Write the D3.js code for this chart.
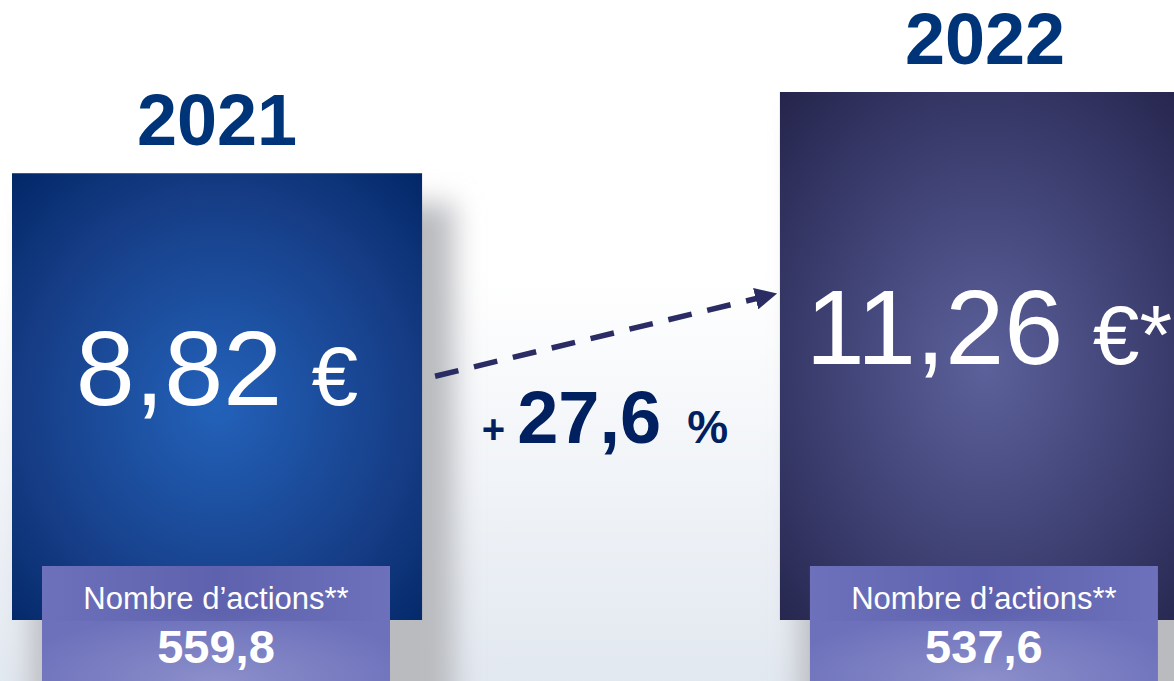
<!DOCTYPE html>
<html>
<head>
<meta charset="utf-8">
<script src="https://cdn.jsdelivr.net/npm/d3@7/dist/d3.min.js"></script>
<style>
  body { margin: 0; overflow: hidden; background: #fff; }
  svg { display: block; font-family: "Liberation Sans", Arial, sans-serif; }
</style>
</head>
<body>
<div id="chart"></div>
<script>
// data
var years = ["2021", "2022"];
var prices = [8.82, 11.26];
var priceNotes = ["", "*"];
var shares = [559.8, 537.6];
var growth = 27.6;
var sharesLabel = "Nombre d’actions**";

var width = 1174, height = 681;

var svg = d3.select("#chart").append("svg")
    .attr("width", width)
    .attr("height", height);

var defs = svg.append("defs");

// page background, white fading to a pale blue-grey at the bottom
var bg = defs.append("linearGradient").attr("id", "bg")
    .attr("x1", 0).attr("y1", 0).attr("x2", 0).attr("y2", 1);
bg.append("stop").attr("offset", "0.4").attr("stop-color", "#ffffff");
bg.append("stop").attr("offset", "1").attr("stop-color", "#e2e8f0");

var barColors = [
    {inner: "#2362ba", mid: "#163d86", outer: "#002564"},
    {inner: "#5c619b", mid: "#383a6a", outer: "#222248"}
];
barColors.forEach(function(c, i) {
    var g = defs.append("radialGradient").attr("id", "bar" + i)
        .attr("cx", 0.5).attr("cy", 0.52).attr("r", 0.75);
    g.append("stop").attr("offset", "0").attr("stop-color", c.inner);
    g.append("stop").attr("offset", "0.62").attr("stop-color", c.mid);
    g.append("stop").attr("offset", "1").attr("stop-color", c.outer);
});

var boxGrad = defs.append("radialGradient").attr("id", "box")
    .attr("cx", 0.5).attr("cy", 1).attr("r", 0.6);
boxGrad.append("stop").attr("offset", "0").attr("stop-color", "#8c8fca");
boxGrad.append("stop").attr("offset", "1").attr("stop-color", "#6d71bb");

var band = defs.append("linearGradient").attr("id", "band");
band.append("stop").attr("offset", "0").attr("stop-color", "#3c4090").attr("stop-opacity", 0);
band.append("stop").attr("offset", "0.5").attr("stop-color", "#3c4090").attr("stop-opacity", 0.3);
band.append("stop").attr("offset", "1").attr("stop-color", "#3c4090").attr("stop-opacity", 0);

defs.append("filter").attr("id", "blur")
    .attr("x", "-50%").attr("y", "-50%").attr("width", "200%").attr("height", "200%")
    .append("feGaussianBlur").attr("stdDeviation", 14);

defs.append("marker").attr("id", "head")
    .attr("viewBox", "0 0 10 10")
    .attr("refX", 9).attr("refY", 5)
    .attr("markerWidth", 4).attr("markerHeight", 4)
    .attr("markerUnits", "strokeWidth")
    .attr("orient", "auto")
    .append("path").attr("d", "M0,0L10,5L0,10Z").attr("fill", "#2b2c64");

svg.append("rect").attr("width", width).attr("height", height).attr("fill", "url(#bg)");

// scales
var x = d3.scaleBand().domain(years).range([12, 1190]).paddingInner(0.466).paddingOuter(0);
var y = d3.scaleLinear().domain([-4.6, 11.26]).range([620, 92]);

var fmt = function(v, p) { return d3.format("." + p + "f")(v).replace(".", ","); };

var rows = years.map(function(d, i) {
    return {year: d, price: prices[i], note: priceNotes[i], shares: shares[i], i: i};
});

var g = svg.selectAll(".col").data(rows).enter().append("g").attr("class", "col");

// soft shadow
g.append("rect")
    .attr("x", d => x(d.year) + 20)
    .attr("y", d => y(d.price) + 30)
    .attr("width", x.bandwidth() + 12)
    .attr("height", d => y(-4.6) - y(d.price) + 120)
    .attr("fill", "#b9bbbf")
    .attr("filter", "url(#blur)");

// bars
g.append("rect")
    .attr("x", d => x(d.year))
    .attr("y", d => y(d.price))
    .attr("width", x.bandwidth())
    .attr("height", d => y(-4.6) - y(d.price))
    .attr("fill", d => "url(#bar" + d.i + ")");

// year labels
g.append("text")
    .attr("x", d => x(d.year) + x.bandwidth() / 2)
    .attr("y", d => y(d.price) - 28)
    .attr("text-anchor", "middle")
    .attr("font-weight", "bold")
    .attr("font-size", 72)
    .attr("fill", "#003478")
    .text(d => d.year);

// price labels
var pt = g.append("text")
    .attr("x", d => x(d.year) + x.bandwidth() / 2 + (d.note ? 4 : 0))
    .attr("y", d => (y(d.price) + y(-4.6)) / 2 + 8)
    .attr("text-anchor", "middle")
    .attr("font-size", 106)
    .attr("fill", "#ffffff");
pt.append("tspan").text(d => fmt(d.price, 2) + " ");
pt.append("tspan").attr("font-size", 84).text("€");
pt.append("tspan").attr("font-size", 84).text(d => d.note);

// share count boxes
var bx = g.append("g");
bx.append("rect")
    .attr("x", d => x(d.year) + 30)
    .attr("y", 566)
    .attr("width", 348)
    .attr("height", height - 566)
    .attr("fill", "url(#box)");
bx.append("rect")
    .attr("x", d => x(d.year) + 30)
    .attr("y", 566)
    .attr("width", 348)
    .attr("height", 55)
    .attr("fill", "url(#band)");
bx.append("text")
    .attr("x", d => x(d.year) + 30 + 174)
    .attr("y", 609)
    .attr("text-anchor", "middle")
    .attr("font-size", 31)
    .attr("fill", "#ffffff")
    .text(sharesLabel);
bx.append("text")
    .attr("x", d => x(d.year) + 30 + 174)
    .attr("y", 663)
    .attr("text-anchor", "middle")
    .attr("font-size", 47)
    .attr("font-weight", "bold")
    .attr("fill", "#ffffff")
    .text(d => fmt(d.shares, 1));

// growth arrow
var a = rows[0], b = rows[1];
svg.append("line")
    .attr("x1", x(a.year) + x.bandwidth() + 13)
    .attr("y1", y(a.price) + 203)
    .attr("x2", x(b.year) - 5)
    .attr("y2", y(b.price) + 202)
    .attr("stroke", "#2b2c64")
    .attr("stroke-width", 5.5)
    .attr("stroke-dasharray", "24,16")
    .attr("marker-end", "url(#head)");

var gt = svg.append("text")
    .attr("x", (x(a.year) + x.bandwidth() + x(b.year)) / 2 + 4)
    .attr("y", y(a.price) + 270)
    .attr("text-anchor", "middle")
    .attr("font-weight", "bold")
    .attr("fill", "#002060");
gt.append("tspan").attr("font-size", 40).text("+");
gt.append("tspan").attr("font-size", 74).attr("dx", 12).text(fmt(growth, 1));
gt.append("tspan").attr("font-size", 46).attr("dx", 26).text("%");
</script>
</body>
</html>
